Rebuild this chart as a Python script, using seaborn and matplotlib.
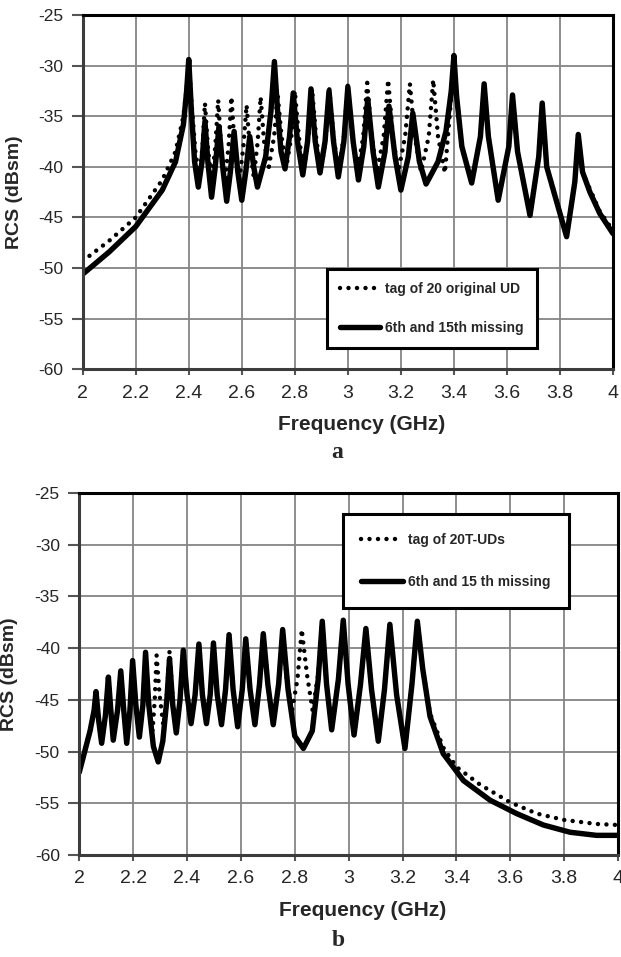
import numpy as np
import pandas as pd
import matplotlib
matplotlib.use('Agg')
import matplotlib.pyplot as plt
import seaborn as sns
from matplotlib.lines import Line2D

sns.set_style('white')
plt.rcParams['font.family'] = ['Liberation Sans', 'DejaVu Sans']
plt.rcParams['axes.unicode_minus'] = False

# ---- (a) tag of 20 original UD vs. 6th and 15th missing
freq_a_orig = [2.00, 2.10, 2.20, 2.30, 2.35, 2.38, 2.392, 2.40, 2.41, 2.425, 2.440, 2.452, 2.461, 2.472,
               2.486, 2.50, 2.511, 2.522, 2.536, 2.55, 2.561, 2.573, 2.590, 2.606, 2.618, 2.63, 2.645,
               2.66, 2.671, 2.684, 2.702, 2.722, 2.735, 2.75, 2.768, 2.787, 2.80, 2.815, 2.833, 2.852,
               2.865, 2.88, 2.898, 2.917, 2.930, 2.946, 2.965, 2.985, 3.000, 3.016, 3.036, 3.058, 3.073,
               3.09, 3.11, 3.135, 3.152, 3.17, 3.19, 3.216, 3.234, 3.252, 3.276, 3.305, 3.322, 3.34,
               3.366, 3.39, 3.40, 3.41, 3.43, 3.467, 3.50, 3.514, 3.53, 3.567, 3.607, 3.621, 3.64, 3.687,
               3.72, 3.733, 3.75, 3.825, 3.856, 3.869, 3.885, 3.913, 3.95, 4.00]
rcs_a_orig = [-49.3, -47.3, -45.0, -41.3, -38.5, -35.0, -32.3, -29.4, -33.5, -38.5, -41.0, -38.0, -33.7, -38.0,
              -41.5, -38.0, -33.4, -38.0, -41.5, -38.0, -33.1, -38.0, -41.5, -38.0, -33.9, -38.0, -41.0,
              -37.5, -33.1, -37.5, -40.0, -37.0, -32.8, -37.0, -40.0, -37.0, -32.5, -37.0, -40.3, -37.0,
              -32.3, -37.0, -40.5, -37.0, -32.3, -37.0, -40.5, -37.0, -31.9, -37.0, -40.5, -37.0, -31.7,
              -37.0, -40.5, -37.0, -31.4, -37.0, -40.5, -37.0, -31.8, -37.0, -40.5, -37.0, -31.4, -37.0,
              -40.6, -33.0, -29.0, -33.0, -38.0, -41.6, -37.0, -31.8, -37.0, -43.3, -38.0, -32.9, -38.5, -44.8,
              -39.0, -33.7, -40.0, -46.9, -41.5, -36.8, -40.5, -42.2, -44.4, -46.3]

freq_a_miss = [2.00, 2.10, 2.20, 2.30, 2.35, 2.38, 2.392, 2.40, 2.41, 2.422, 2.436, 2.45, 2.461, 2.472,
               2.486, 2.50, 2.514, 2.528, 2.543, 2.557, 2.571, 2.585, 2.600, 2.615, 2.630, 2.645, 2.659,
               2.69, 2.71, 2.723, 2.735, 2.748, 2.763, 2.78, 2.794, 2.81, 2.830, 2.848, 2.861, 2.877,
               2.895, 2.914, 2.929, 2.946, 2.964, 2.985, 3.000, 3.02, 3.040, 3.06, 3.075, 3.095, 3.115,
               3.14, 3.155, 3.178, 3.200, 3.228, 3.245, 3.27, 3.295, 3.34, 3.37, 3.39, 3.40, 3.41, 3.43,
               3.467, 3.50, 3.514, 3.53, 3.567, 3.607, 3.621, 3.64, 3.687, 3.72, 3.733, 3.75, 3.825,
               3.856, 3.869, 3.885, 3.913, 3.95, 4.00]
rcs_a_miss = [-50.6, -48.4, -45.9, -42.3, -39.5, -35.8, -32.5, -29.4, -34.5, -39.5, -42.0, -39.5, -35.5, -39.5,
              -43.0, -40.0, -36.0, -40.0, -43.4, -40.5, -36.5, -40.5, -43.3, -40.5, -37.0, -40.0, -42.0,
              -39.0, -34.5, -29.6, -34.5, -38.5, -40.2, -37.0, -32.7, -37.5, -40.8, -37.5, -32.3, -37.5,
              -40.6, -37.5, -32.5, -37.5, -41.0, -37.5, -32.1, -37.5, -41.3, -38.0, -33.3, -38.5, -42.0,
              -38.5, -34.0, -39.0, -42.3, -39.0, -34.7, -39.5, -41.7, -39.5, -36.5, -32.5, -29.0, -33.0, -38.0,
              -41.6, -37.0, -31.8, -37.0, -43.3, -38.0, -32.9, -38.5, -44.8, -39.0, -33.7, -40.0, -46.9,
              -41.5, -36.8, -40.5, -42.5, -44.6, -46.6]

# ---- (b) tag of 20T-UDs vs. 6th and 15th missing
freq_b_orig = [2.00, 2.02, 2.04, 2.055, 2.062, 2.072, 2.083, 2.097, 2.108, 2.117, 2.126, 2.142, 2.154, 2.165,
               2.176, 2.188, 2.198, 2.21, 2.223, 2.236, 2.246, 2.258, 2.272, 2.28, 2.287, 2.298, 2.312,
               2.324, 2.335, 2.347, 2.36, 2.374, 2.386, 2.40, 2.415, 2.43, 2.444, 2.457, 2.472, 2.486,
               2.498, 2.512, 2.528, 2.543, 2.556, 2.571, 2.588, 2.605, 2.618, 2.634, 2.652, 2.669, 2.683,
               2.70, 2.72, 2.74, 2.755, 2.77, 2.79, 2.81, 2.826, 2.845, 2.866, 2.887, 2.902, 2.918, 2.937,
               2.962, 2.980, 2.998, 3.020, 3.044, 3.064, 3.085, 3.110, 3.133, 3.153, 3.178, 3.209, 3.235,
               3.255, 3.275, 3.302, 3.351, 3.401, 3.488, 3.599, 3.699, 3.798, 3.92, 4.00]
rcs_b_orig = [-52.0, -50.0, -48.0, -46.0, -44.2, -47.0, -49.2, -46.5, -42.8, -46.0, -48.9, -46.0, -42.2, -46.0,
              -49.2, -46.0, -41.2, -45.5, -48.6, -45.5, -40.4, -45.5, -48.0, -45.0, -40.7, -44.5, -47.5,
              -45.0, -40.3, -45.0, -47.8, -45.0, -40.2, -44.5, -47.3, -44.5, -39.6, -44.5, -47.3, -44.5,
              -39.5, -44.5, -47.4, -44.0, -38.7, -44.0, -47.6, -44.0, -39.1, -44.0, -47.4, -43.5, -38.6,
              -43.5, -47.4, -43.5, -38.2, -43.0, -46.0, -43.0, -38.2, -42.5, -46.0, -42.5, -37.4, -43.5, -47.9,
              -43.0, -37.3, -43.5, -48.4, -43.5, -38.1, -44.0, -49.0, -44.0, -37.7, -44.5, -49.7, -43.5,
              -37.4, -42.0, -46.3, -49.6, -51.5, -53.2, -54.9, -56.0, -56.6, -57.0, -57.1]

freq_b_miss = [2.00, 2.02, 2.04, 2.055, 2.062, 2.072, 2.083, 2.097, 2.108, 2.117, 2.126, 2.142, 2.154, 2.165,
               2.176, 2.188, 2.198, 2.21, 2.223, 2.236, 2.246, 2.258, 2.275, 2.293, 2.31, 2.325, 2.335,
               2.347, 2.36, 2.374, 2.386, 2.40, 2.415, 2.43, 2.444, 2.457, 2.472, 2.486, 2.498, 2.512,
               2.528, 2.543, 2.556, 2.571, 2.588, 2.605, 2.618, 2.634, 2.652, 2.669, 2.683, 2.70, 2.72,
               2.74, 2.755, 2.775, 2.80, 2.832, 2.865, 2.887, 2.902, 2.918, 2.937, 2.962, 2.980, 2.998,
               3.020, 3.044, 3.064, 3.085, 3.110, 3.133, 3.153, 3.178, 3.209, 3.235, 3.255, 3.275, 3.302,
               3.351, 3.426, 3.525, 3.624, 3.723, 3.822, 3.92, 4.00]
rcs_b_miss = [-52.0, -50.0, -48.0, -46.0, -44.2, -47.0, -49.2, -46.5, -42.8, -46.0, -48.9, -46.0, -42.2, -46.0,
              -49.2, -46.0, -41.2, -45.5, -48.6, -45.5, -40.4, -45.5, -49.5, -51.0, -49.0, -45.0, -41.0,
              -45.5, -48.2, -45.0, -40.2, -44.5, -47.3, -44.5, -39.6, -44.5, -47.3, -44.5, -39.5, -44.5,
              -47.4, -44.0, -38.7, -44.0, -47.6, -44.0, -39.1, -44.0, -47.4, -43.5, -38.6, -43.5, -47.4,
              -43.5, -38.2, -44.0, -48.5, -49.7, -48.0, -43.0, -37.4, -43.5, -47.9, -43.0, -37.3, -43.5,
              -48.4, -43.5, -38.1, -44.0, -49.0, -44.0, -37.7, -44.5, -49.7, -43.5, -37.4, -42.0, -46.6,
              -50.2, -52.8, -54.7, -56.0, -57.1, -57.8, -58.1, -58.1]

x_ticks = [2, 2.2, 2.4, 2.6, 2.8, 3, 3.2, 3.4, 3.6, 3.8, 4]
x_tick_labels = ['2', '2.2', '2.4', '2.6', '2.8', '3', '3.2', '3.4', '3.6', '3.8', '4']
y_ticks = [-25, -30, -35, -40, -45, -50, -55, -60]
y_tick_labels = ['-25', '-30', '-35', '-40', '-45', '-50', '-55', '-60']

W, H = 621, 957
fig = plt.figure(figsize=(W / 100, H / 100), dpi=100)
ax1 = fig.add_axes([82.7 / W, 1 - 369.3 / H, 530.3 / W, 354.3 / H])
ax2 = fig.add_axes([79.3 / W, 1 - 855 / H, 538.7 / W, 362 / H])

dot_style = dict(color='black', linewidth=3.2, linestyle=(0, (0.01, 1.9)), dash_capstyle='round')
solid_style = dict(color='black', linewidth=3.9, solid_capstyle='round', solid_joinstyle='round')


def draw_panel(ax, f_orig, r_orig, f_miss, r_miss, lab_orig, lab_miss, anchor, legend_kw):
    sns.lineplot(x=f_miss, y=r_miss, ax=ax, estimator=None, sort=False, **solid_style)
    sns.lineplot(x=f_orig, y=r_orig, ax=ax, estimator=None, sort=False, **dot_style)
    ax.set_xlim(2, 4)
    ax.set_ylim(-60, -25)
    ax.set_xticks(x_ticks)
    ax.set_xticklabels(x_tick_labels, fontsize=14)
    ax.set_yticks(y_ticks)
    ax.set_yticklabels(y_tick_labels, fontsize=12.5)
    ax.grid(True, color='#858585', linewidth=1.3)
    ax.set_axisbelow(True)
    for side in ['top', 'right']:
        ax.spines[side].set_color('black')
        ax.spines[side].set_linewidth(2.2)
    for side in ['left', 'bottom']:
        ax.spines[side].set_color('#3c3c3c')
        ax.spines[side].set_linewidth(2.2)
    ax.tick_params(axis='x', direction='out', length=4, width=1.5, color='#555555', pad=7, bottom=True)
    ax.tick_params(axis='y', direction='out', length=8, width=1.5, color='#555555', pad=6, left=True)
    handles = [Line2D([], [], **dot_style), Line2D([], [], **solid_style)]
    leg = ax.legend(handles, [lab_orig, lab_miss], loc='upper left', bbox_to_anchor=anchor,
                    borderaxespad=0, fancybox=False, framealpha=1, edgecolor='black',
                    prop={'size': 10, 'weight': 'bold'}, **legend_kw)
    leg.get_frame().set_linewidth(2.2)


draw_panel(ax1, freq_a_orig, rcs_a_orig, freq_a_miss, rcs_a_miss,
           'tag of 20 original UD', '6th and 15th missing', (0.4607, 0.283),
           dict(handlelength=2.9, handletextpad=0.35, labelspacing=1.75, borderpad=0.95))
draw_panel(ax2, freq_b_orig, rcs_b_orig, freq_b_miss, rcs_b_miss,
           'tag of 20T-UDs', '6th and 15 th missing', (0.489, 0.942),
           dict(handlelength=3.0, handletextpad=0.35, labelspacing=2.05, borderpad=1.35))

# axis titles and panel letters
fig.text(362 / W, 1 - 424 / H, 'Frequency (GHz)', ha='center', va='center', fontsize=15, fontweight='bold')
fig.text(337 / W, 1 - 453 / H, 'a', ha='center', va='center', fontsize=17, fontweight='bold',
         family='Liberation Serif')
fig.text(15 / W, 1 - 192 / H, 'RCS (dBsm)', ha='center', va='center', rotation=90, fontsize=14,
         fontweight='bold')

fig.text(363 / W, 1 - 910 / H, 'Frequency (GHz)', ha='center', va='center', fontsize=15, fontweight='bold')
fig.text(338 / W, 1 - 940 / H, 'b', ha='center', va='center', fontsize=17, fontweight='bold',
         family='Liberation Serif')
fig.text(10 / W, 1 - 674 / H, 'RCS (dBsm)', ha='center', va='center', rotation=90, fontsize=14,
         fontweight='bold')

fig.savefig('out.png', dpi=100)
